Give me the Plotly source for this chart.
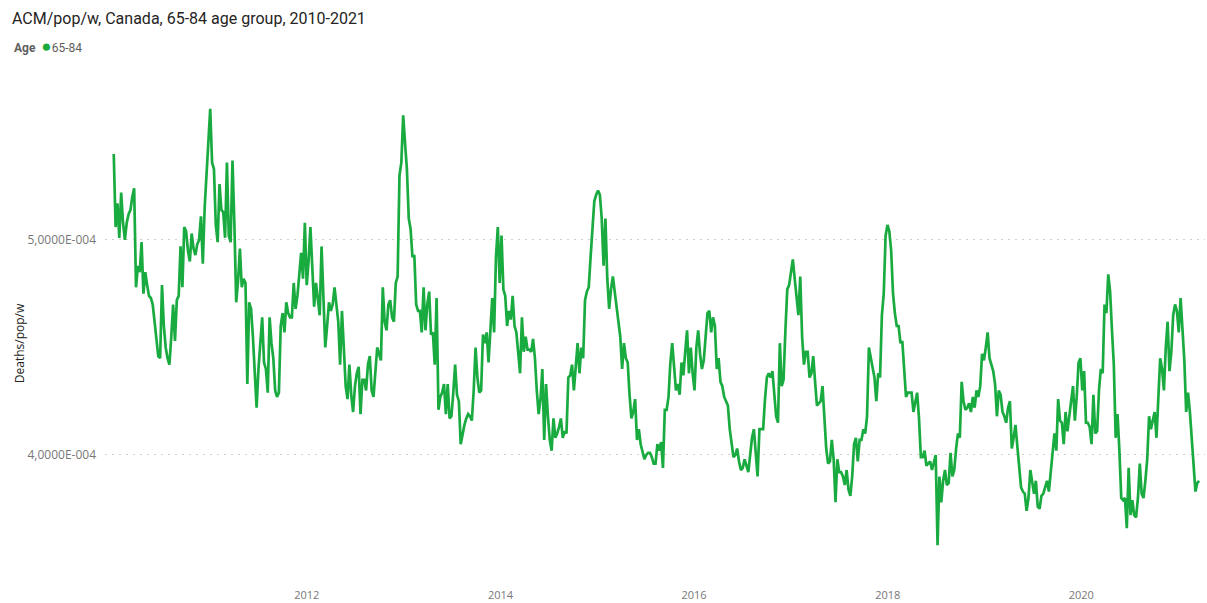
import pandas as pd
import plotly.graph_objects as go

# weekly all-cause mortality per population, 65-84, in units of 1e-4
UNIT = 1e-4

wk_2010 = [5.40, 5.06, 5.17, 5.01, 5.22, 5.08, 5.00, 5.08, 5.12, 5.14, 5.20, 5.24,
           4.78, 4.88, 4.85, 4.99, 4.75, 4.85, 4.79, 4.74, 4.73, 4.70, 4.62, 4.55,
           4.46, 4.45, 4.79, 4.60, 4.50, 4.45, 4.42, 4.55, 4.70, 4.53, 4.72, 4.74,
           4.97, 4.78, 5.06, 5.04, 4.95, 4.90, 5.03, 4.96, 4.93, 4.98, 5.00, 5.11,
           4.89, 5.15, 5.29, 5.45]
wk_2011 = [5.61, 5.36, 5.33, 5.07, 4.99, 5.26, 5.14, 5.13, 5.01, 5.36, 5.02, 4.99,
           5.37, 5.08, 4.71, 4.81, 4.96, 4.78, 4.82, 4.80, 4.33, 4.71, 4.68, 4.55,
           4.40, 4.22, 4.40, 4.53, 4.64, 4.43, 4.40, 4.29, 4.64, 4.52, 4.45, 4.30,
           4.27, 4.29, 4.60, 4.66, 4.57, 4.71, 4.66, 4.64, 4.64, 4.80, 4.68, 4.74,
           4.85, 4.94, 4.82, 5.08]
wk_2012 = [4.79, 4.90, 5.06, 4.85, 4.69, 4.80, 4.71, 4.65, 4.97, 4.68, 4.50, 4.60,
           4.71, 4.67, 4.70, 4.78, 4.68, 4.62, 4.42, 4.67, 4.50, 4.32, 4.26, 4.42,
           4.28, 4.20, 4.32, 4.38, 4.41, 4.19, 4.35, 4.35, 4.30, 4.42, 4.46, 4.30,
           4.27, 4.38, 4.50, 4.47, 4.44, 4.78, 4.62, 4.58, 4.70, 4.72, 4.64, 4.62,
           4.80, 4.83, 5.30, 5.36]
wk_2013 = [5.58, 5.45, 5.33, 5.10, 5.05, 4.92, 4.93, 4.70, 4.67, 4.67, 4.57, 4.78,
           4.58, 4.70, 4.76, 4.56, 4.57, 4.42, 4.73, 4.21, 4.27, 4.29, 4.33, 4.19,
           4.33, 4.17, 4.18, 4.29, 4.42, 4.28, 4.25, 4.05, 4.10, 4.14, 4.17, 4.19,
           4.18, 4.16, 4.30, 4.50, 4.36, 4.29, 4.30, 4.56, 4.52, 4.57, 4.43, 4.60,
           4.73, 4.57, 4.92, 5.06]
wk_2014 = [4.80, 5.02, 4.77, 4.74, 4.60, 4.67, 4.63, 4.74, 4.60, 4.57, 4.49, 4.38,
           4.64, 4.48, 4.55, 4.49, 4.49, 4.48, 4.54, 4.45, 4.30, 4.19, 4.26, 4.40,
           4.07, 4.33, 4.18, 4.07, 4.02, 4.17, 4.08, 4.10, 4.13, 4.17, 4.08, 4.11,
           4.10, 4.36, 4.37, 4.42, 4.30, 4.43, 4.52, 4.38, 4.50, 4.45, 4.72, 4.76,
           4.78, 4.92, 5.07, 5.18]
wk_2015 = [5.21, 5.23, 5.21, 5.10, 4.88, 5.10, 4.82, 4.68, 4.77, 4.83, 4.76, 4.68,
           4.60, 4.55, 4.40, 4.52, 4.45, 4.43, 4.28, 4.17, 4.20, 4.26, 4.07, 4.12,
           4.05, 4.02, 3.98, 4.00, 4.01, 4.01, 3.99, 3.96, 3.96, 4.05, 4.02, 4.06,
           3.94, 4.21, 4.21, 4.27, 4.43, 4.52, 4.40, 4.30, 4.33, 4.28, 4.43, 4.37,
           4.48, 4.58, 4.38, 4.50]
wk_2016 = [4.38, 4.30, 4.50, 4.58, 4.47, 4.40, 4.44, 4.55, 4.66, 4.67, 4.57, 4.64,
           4.60, 4.40, 4.45, 4.34, 4.32, 4.27, 4.25, 4.23, 4.12, 4.05, 3.99, 4.00,
           4.03, 3.97, 3.93, 3.94, 3.98, 3.95, 3.92, 4.00, 4.08, 4.12, 4.00, 3.90,
           4.12, 4.12, 4.12, 4.26, 4.36, 4.38, 4.36, 4.39, 4.30, 4.18, 4.15, 4.52,
           4.32, 4.35, 4.58, 4.77]
wk_2017 = [4.79, 4.85, 4.91, 4.82, 4.72, 4.65, 4.83, 4.55, 4.42, 4.48, 4.48, 4.36,
           4.38, 4.46, 4.34, 4.23, 4.24, 4.25, 4.32, 4.15, 4.03, 3.96, 3.97, 4.07,
           3.98, 3.78, 3.98, 3.92, 3.92, 3.90, 3.86, 3.93, 3.84, 3.81, 3.90, 4.05,
           4.08, 3.97, 4.07, 4.07, 4.12, 4.10, 4.18, 4.50, 4.45, 4.41, 4.36, 4.25,
           4.38, 4.36, 4.65, 4.75]
wk_2018 = [5.02, 5.07, 5.04, 4.95, 4.75, 4.66, 4.60, 4.60, 4.52, 4.53, 4.38, 4.27,
           4.29, 4.29, 4.29, 4.20, 4.24, 4.29, 4.17, 3.99, 3.99, 4.02, 3.95, 3.96,
           3.97, 3.93, 3.96, 4.00, 3.58, 3.90, 3.78, 3.88, 3.93, 3.86, 3.87, 4.01,
           3.90, 3.93, 4.03, 4.10, 4.08, 4.34, 4.25, 4.21, 4.22, 4.24, 4.20, 4.27,
           4.22, 4.30, 4.27, 4.32]
wk_2019 = [4.47, 4.44, 4.50, 4.57, 4.45, 4.42, 4.39, 4.33, 4.18, 4.30, 4.28, 4.20,
           4.18, 4.15, 4.22, 4.25, 4.03, 4.08, 4.14, 4.04, 3.95, 3.85, 3.83, 3.82,
           3.74, 3.80, 3.93, 3.88, 3.82, 3.88, 3.76, 3.75, 3.81, 3.82, 3.85, 3.88,
           3.83, 3.92, 4.00, 4.10, 4.02, 4.26, 4.16, 4.15, 4.05, 4.20, 4.11, 4.18,
           4.27, 4.32, 4.16, 4.27]
wk_2020 = [4.43, 4.45, 4.30, 4.39, 4.15, 4.15, 4.13, 4.05, 4.28, 4.10, 4.11, 4.30,
           4.40, 4.38, 4.70, 4.66, 4.84, 4.76, 4.58, 4.42, 4.08, 4.19, 4.02, 3.80,
           3.79, 3.80, 3.66, 3.94, 3.72, 3.79, 3.72, 3.71, 3.80, 3.96, 3.82, 3.80,
           3.88, 3.98, 4.18, 4.12, 4.16, 4.20, 4.08, 4.25, 4.45, 4.40, 4.30, 4.50,
           4.62, 4.39, 4.48, 4.65]
wk_2021 = [4.70, 4.67, 4.57, 4.73, 4.60, 4.44, 4.20, 4.29, 4.20, 4.08, 3.98, 3.83,
           3.87, 3.88]

y_ticks = [4.0, 5.0]
y_tick_labels = ["4,0000E-004", "5,0000E-004"]
x_ticks = ["2012-01-01", "2014-01-01", "2016-01-01", "2018-01-01", "2020-01-01"]
x_tick_labels = ["2012", "2014", "2016", "2018", "2020"]

values = (wk_2010 + wk_2011 + wk_2012 + wk_2013 + wk_2014 + wk_2015 + wk_2016
          + wk_2017 + wk_2018 + wk_2019 + wk_2020 + wk_2021)
weeks = pd.date_range("2010-01-03", periods=len(values), freq="7D")

GREEN = "#1AAB40"

fig = go.Figure()
fig.add_trace(go.Scatter(
    x=weeks,
    y=[v * UNIT for v in values],
    mode="lines",
    line=dict(color=GREEN, width=2.7),
    name="65-84",
    showlegend=False,
))

fig.update_layout(
    width=1207,
    height=603,
    paper_bgcolor="white",
    plot_bgcolor="white",
    margin=dict(l=105, r=2, t=100, b=16),
    font=dict(family="Open Sans, sans-serif", color="#777777", size=12),
    title=dict(
        text="ACM/pop/w, Canada, 65-84 age group, 2010-2021",
        xref="container", x=12 / 1207, xanchor="left",
        yref="container", y=1 - 18 / 603, yanchor="middle",
        font=dict(family="Roboto, sans-serif", size=16, color="#252423"),
    ),
    xaxis=dict(
        range=["2009-12-01", "2021-04-12"],
        tickvals=x_ticks,
        ticktext=x_tick_labels,
        showgrid=False,
        zeroline=False,
        showline=False,
        tickfont=dict(size=11, color="#777777"),
    ),
    yaxis=dict(
        range=[3.386 * UNIT, 5.651 * UNIT],
        tickvals=[t * UNIT for t in y_ticks],
        ticktext=y_tick_labels,
        showgrid=True,
        gridcolor="#cfcfcf",
        griddash="2px,5px",
        gridwidth=1,
        zeroline=False,
        showline=False,
        ticklabelstandoff=8,
        tickfont=dict(size=12, color="#777777"),
        title=dict(text="Deaths/pop/w", standoff=0,
                   font=dict(size=12, color="#252423")),
    ),
    annotations=[
        dict(
            text=("<b>Age</b>  <span style='color:%s;font-size:17px'>●</span>65-84"
                  % GREEN),
            xref="paper", yref="paper",
            x=-(105 - 12) / 1100, y=1 + (100 - 46) / 487,
            xanchor="left", yanchor="middle", showarrow=False,
            font=dict(family="Roboto, sans-serif", size=12, color="#605E5C"),
        )
    ],
)

# drop the page's default body margin so the figure sits at the window origin
fig.write_html("out.html", config={"displayModeBar": False},
               post_script="document.body.style.margin = '0';")
